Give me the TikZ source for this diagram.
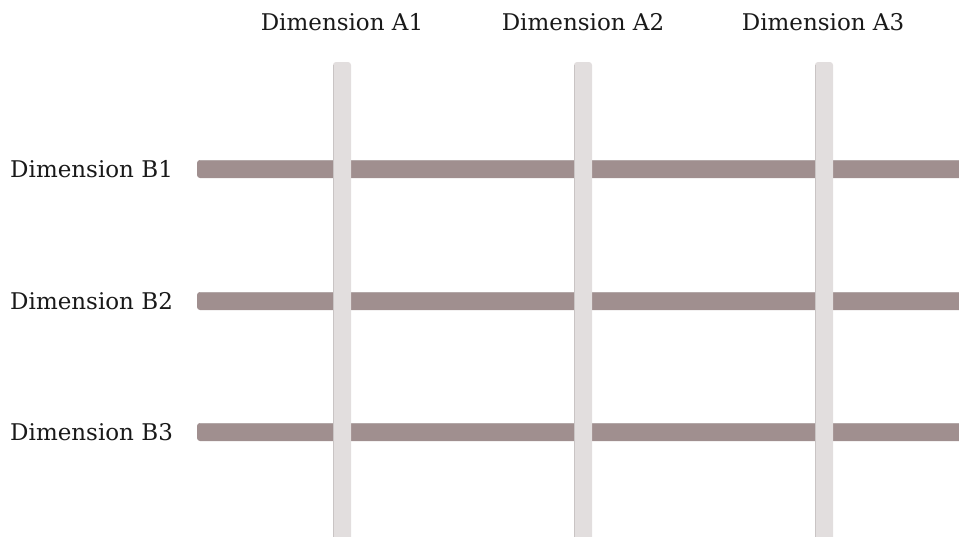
\documentclass[tikz,border=0pt]{standalone}
\usepackage{fontspec}
\setmainfont{DejaVu Serif}
\definecolor{hbarcol}{HTML}{A08F8F}
\definecolor{hedge}{HTML}{B3A8A8}
\definecolor{vbarcol}{HTML}{E2DEDE}
\definecolor{vedge}{HTML}{C9C4C4}
\begin{document}
\begin{tikzpicture}[x=1pt,y=-1pt,
  lab/.style={font=\fontsize{23}{26}\selectfont, inner sep=0pt, text=black!90},
  hbar/.style={fill=hbarcol, draw=none, rounded corners=3pt},
  vbar/.style={fill=vbarcol, draw=none, rounded corners=3pt}]
\useasboundingbox (0,0) rectangle (959,536);
\clip (0,0) rectangle (959,536);
% horizontal bars
\foreach \n/\y in {1/169,2/301,3/432}{
  \path[hbar] (197,\y-9) rectangle (975,\y+9);
  \draw[hedge, line width=0.8pt] (200,\y-8.6) -- (975,\y-8.6);
}
% vertical bars
\foreach \n/\x in {1/342,2/583,3/824}{
  \path[vbar] (\x-9,62) rectangle (\x+9,550);
  \draw[vedge, line width=0.8pt] (\x-8.6,65) -- (\x-8.6,550);
}
% labels
\node[lab, anchor=base] (a1) at (342,30) {Dimension A1};
\node[lab, anchor=base] (a2) at (583,30) {Dimension A2};
\node[lab, anchor=base] (a3) at (823,30) {Dimension A3};
\node[lab, anchor=base west] (b1) at (10,177.5) {Dimension B1};
\node[lab, anchor=base west] (b2) at (10,309) {Dimension B2};
\node[lab, anchor=base west] (b3) at (10,440.5) {Dimension B3};
\end{tikzpicture}
\end{document}
